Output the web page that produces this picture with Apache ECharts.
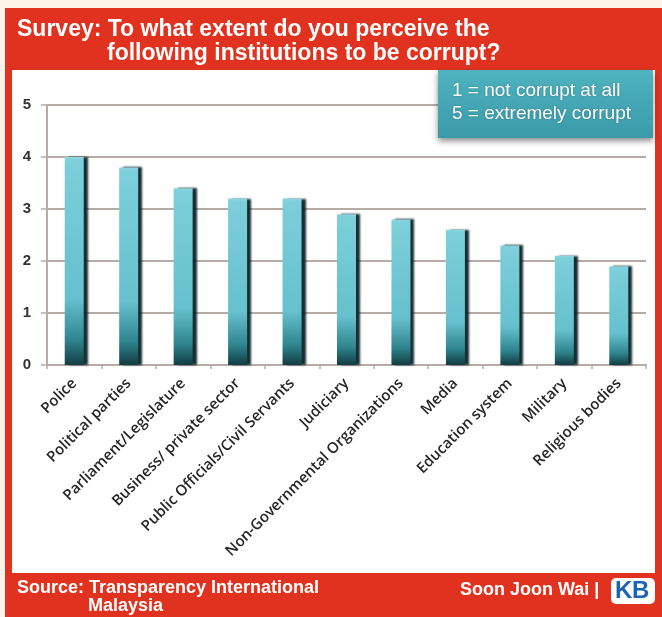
<!DOCTYPE html>
<html>
<head>
<meta charset="utf-8">
<script src="https://cdn.jsdelivr.net/npm/echarts@6/dist/echarts.min.js"></script>
<style>
html,body{margin:0;padding:0;background:#fdf3e8;}
#chart{width:662px;height:617px;}
</style>
</head>
<body>
<div id="chart"></div>
<script>
var categories = ['Police','Political parties','Parliament/Legislature','Business/ private sector','Public Officials/Civil Servants','Judiciary','Non-Governmental Organizations','Media','Education system','Military','Religious bodies'];
var values = [4.0, 3.8, 3.4, 3.2, 3.2, 2.9, 2.8, 2.6, 2.3, 2.1, 1.9];
var yTicks = [0, 1, 2, 3, 4, 5];
var titleLines = ['Survey: To what extent do you perceive the', 'following institutions to be corrupt?'];
var legendLines = ['1 = not corrupt at all', '5 = extremely corrupt'];
var sourceLines = ['Source: Transparency International', 'Malaysia'];
var credit = 'Soon Joon Wai |';

var RED = '#e0321f';
var chart = echarts.init(document.getElementById('chart'), null, {renderer:'canvas'});
var option = {
  backgroundColor: '#fdf3e8',
  animation: false,
  grid: {left: 47, right: 16, top: 105, bottom: 252, containLabel: false},
  xAxis: {
    type: 'category',
    data: categories,
    boundaryGap: true,
    axisLine: {show: true, lineStyle: {color: '#b5aca6', width: 2}},
    axisTick: {show: true, length: 4, lineStyle: {color: '#b5aca6', width: 1.5}},
    axisLabel: {
      interval: 0, rotate: 45, margin: 16,
      fontFamily: 'Open Sans', fontWeight: 600, fontSize: 15, color: '#262626'
    }
  },
  yAxis: {
    type: 'value',
    min: yTicks[0], max: yTicks[yTicks.length - 1], interval: 1,
    axisLine: {show: true, lineStyle: {color: '#b5aca6', width: 2}},
    axisTick: {show: true, length: 6, lineStyle: {color: '#b5aca6', width: 1.5}},
    axisLabel: {margin: 16, fontFamily: 'Liberation Sans', fontWeight: 'bold', fontSize: 15, color: '#333'},
    splitLine: {show: true, lineStyle: {color: '#b5aca6', width: 2}}
  },
  series: [{
    type: 'bar',
    data: values,
    barWidth: 19,
    z: 3,
    itemStyle: {
      color: new echarts.graphic.LinearGradient(0, 0, 0, 1, [
        {offset: 0, color: '#8ed5df'},
        {offset: 0.02, color: '#7ccfdb'},
        {offset: 0.68, color: '#66c0cd'},
        {offset: 0.88, color: '#2f858f'},
        {offset: 1, color: '#113d42'}
      ]),
      shadowColor: 'rgba(10,35,38,0.95)',
      shadowBlur: 2,
      shadowOffsetX: 4,
      shadowOffsetY: 0
    }
  }],
  graphic: [
    {type: 'rect', z: -10, silent: true, shape: {x: 5, y: 8, width: 657, height: 609}, style: {fill: RED}},
    {type: 'rect', z: -9, silent: true, shape: {x: 12, y: 70, width: 643, height: 503}, style: {fill: '#ffffff'}},
    {type: 'text', z: 5, left: 17, top: 18, style: {text: titleLines[0], fill: '#fff', font: 'bold 23px "Liberation Sans"'}},
    {type: 'text', z: 5, left: 107, top: 42, style: {text: titleLines[1], fill: '#fff', font: 'bold 23px "Liberation Sans"'}},
    {type: 'rect', z: 10, silent: true, shape: {x: 438, y: 70, width: 215, height: 68},
      style: {fill: new echarts.graphic.LinearGradient(0,0,0,1,[{offset:0,color:'#4fb3c0'},{offset:1,color:'#3a9aa8'}]), shadowColor: 'rgba(0,0,0,0.45)', shadowBlur: 6, shadowOffsetY: 3}},
    {type: 'text', z: 11, left: 452, top: 81, style: {text: legendLines[0], fill: '#fff', font: '19px "Liberation Sans"', textShadowColor: 'rgba(0,0,0,0.3)', textShadowBlur: 2}},
    {type: 'text', z: 11, left: 452, top: 104, style: {text: legendLines[1], fill: '#fff', font: '19px "Liberation Sans"', textShadowColor: 'rgba(0,0,0,0.3)', textShadowBlur: 2}},
    {type: 'text', z: 5, left: 17, top: 579, style: {text: sourceLines[0], fill: '#fff', font: 'bold 18px "Liberation Sans"'}},
    {type: 'text', z: 5, left: 88, top: 597, style: {text: sourceLines[1], fill: '#fff', font: 'bold 18px "Liberation Sans"'}},
    {type: 'text', z: 5, left: 460, top: 581, style: {text: credit, fill: '#fff', font: 'bold 18px "Liberation Sans"'}},
    {type: 'rect', z: 5, shape: {x: 611, y: 578, width: 44, height: 26, r: 5}, style: {fill: '#ffffff'}},
    {type: 'text', z: 6, left: 615, top: 579, style: {text: 'K', fill: '#1d63b5', font: 'bold 24px "Liberation Sans"'}},
    {type: 'text', z: 6, left: 632, top: 579, style: {text: 'B', fill: '#1d63b5', font: 'bold 24px "Liberation Sans"'}}
  ]
};
chart.setOption(option);
</script>
</body>
</html>
